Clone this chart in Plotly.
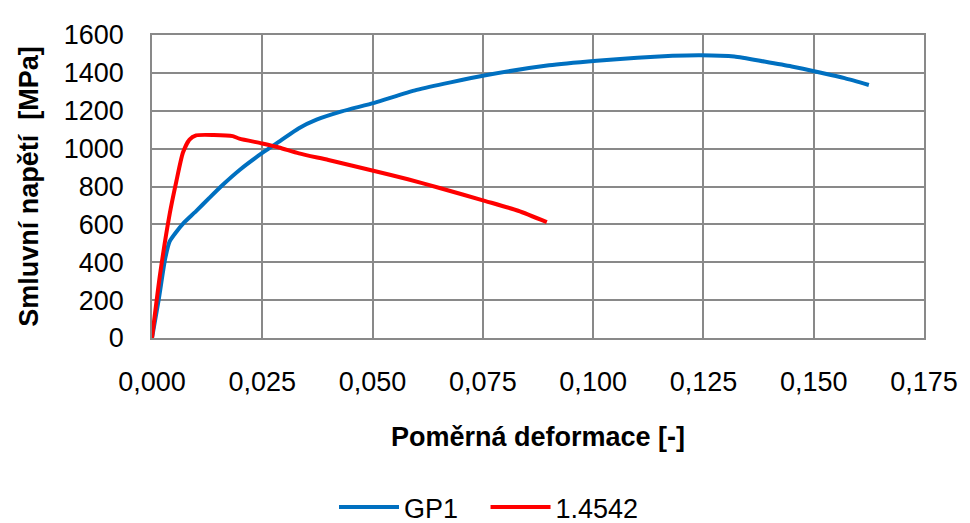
import plotly.graph_objects as go

# GP1 curve (strain [-], stress [MPa])
gp1_strain = [0.000, 0.0015, 0.003, 0.004, 0.0055, 0.007, 0.010, 0.013, 0.016, 0.020,
              0.025, 0.029, 0.0333, 0.0373, 0.043, 0.0504, 0.060, 0.0756, 0.090,
              0.1008, 0.110, 0.118, 0.1244, 0.132, 0.1388, 0.1450, 0.1514, 0.1570, 0.1625]
gp1_stress = [0, 200, 420, 510, 560, 603, 670, 740, 808, 890,
              977, 1040, 1108, 1153, 1197, 1242, 1310, 1387, 1440,
              1464, 1480, 1490, 1493, 1487, 1460, 1434, 1402, 1372, 1336]

# 1.4542 curve
ss_strain = [0.000, 0.0018, 0.004, 0.0055, 0.007, 0.0085, 0.010, 0.014, 0.0183,
             0.0198, 0.025, 0.0288, 0.0333, 0.040, 0.0504, 0.0580, 0.0652,
             0.0756, 0.0830, 0.0895]
ss_stress = [0, 332, 654, 825, 978, 1048, 1070, 1072, 1066,
             1053, 1027, 1006, 975, 940, 882, 838, 792,
             723, 672, 612]

fig = go.Figure()
# trailing nbsp only widens the gap between the two legend entries
fig.add_trace(go.Scatter(x=gp1_strain, y=gp1_stress, name='GP1&nbsp;&nbsp;&nbsp;', mode='lines',
                         line=dict(color='#0070C0', width=4, shape='spline', smoothing=0.6)))
fig.add_trace(go.Scatter(x=ss_strain, y=ss_stress, name='1.4542', mode='lines',
                         line=dict(color='#FF0000', width=4, shape='spline', smoothing=0.6)))

font_main = 'Liberation Sans, Arial, sans-serif'
grid = '#898989'

# page body has an 8px default margin, so the figure is a bit smaller
fig.update_layout(
    width=962, height=515,
    margin=dict(l=144, r=40, t=17, b=185),
    paper_bgcolor='white', plot_bgcolor='white',
    separators=', ',
    font=dict(family=font_main, size=27, color='black'),
    showlegend=True,
    legend=dict(orientation='h', xref='container', x=0.5, xanchor='center',
                yref='container', y=0.03, yanchor='middle', font=dict(size=27),
                itemwidth=60, tracegroupgap=0),
    xaxis=dict(range=[0, 0.175], dtick=0.025, tickformat='.3f',
               showgrid=True, gridcolor=grid, gridwidth=1.5,
               showline=True, linecolor=grid, linewidth=1.5, mirror=True,
               zeroline=False, ticks='', ticklabelstandoff=19,
               title=dict(text='<b>Poměrná deformace [-]</b>', standoff=31,
                          font=dict(size=27))),
    yaxis=dict(range=[0, 1600], dtick=200, tickformat='d',
               showgrid=True, gridcolor=grid, gridwidth=1.5,
               showline=True, linecolor=grid, linewidth=1.5, mirror=True,
               zeroline=False, ticks='', ticklabelstandoff=21,
               title=dict(text='<b>Smluvní napětí  [MPa]</b>', standoff=17,
                          font=dict(size=27))),
)

fig.write_html('out.html')
